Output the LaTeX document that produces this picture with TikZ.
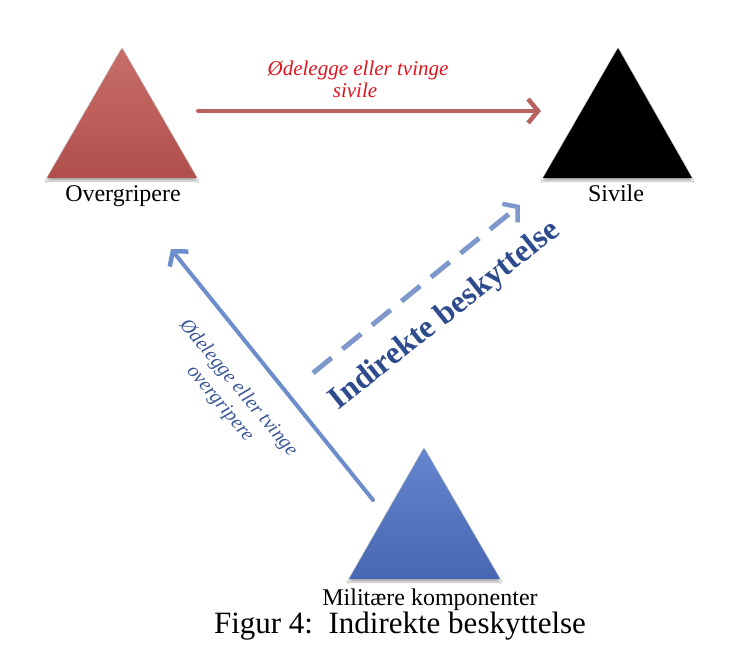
\documentclass[tikz,border=0pt]{standalone}
\usepackage{fontspec}
\setmainfont{Liberation Serif}
\usetikzlibrary{arrows.meta,shadows.blur}
\definecolor{redtop}{HTML}{C86E6A}
\definecolor{redbot}{HTML}{B04F4B}
\definecolor{redarrow}{HTML}{B7625E}
\definecolor{redtext}{HTML}{E0141F}
\definecolor{bluetop}{HTML}{6585CE}
\definecolor{bluebot}{HTML}{4767B2}
\definecolor{bluearrow}{HTML}{6E8DCB}
\definecolor{bluedash}{HTML}{7F98CC}
\definecolor{bluebold}{HTML}{2D4B8D}
\definecolor{bluelabel}{HTML}{3A5696}
\begin{document}
\begin{tikzpicture}[x=1pt,y=-1pt,
  tri/.style={blur shadow={shadow xshift=0pt,shadow yshift=-3pt,shadow blur steps=6,shadow opacity=30}},
  lbl/.style={font=\fontsize{24}{28}\selectfont, text=black, inner sep=0pt, anchor=base},
  arr/.style={line width=4pt, line cap=round, -{Straight Barb[length=10pt,width=24pt,line width=4.5pt]}},
]
\useasboundingbox[fill=white] (0,0) rectangle (742,646);

% triangles
\path[tri, top color=redtop, bottom color=redbot] (122,48) -- (197,178) -- (47,178) -- cycle;
\path[tri, fill=black] (618,48) -- (692,178) -- (543,178) -- cycle;
\path[tri, top color=bluetop, bottom color=bluebot] (424,448) -- (500,579) -- (349,579) -- cycle;

% labels
\node[lbl] (over) at (123,201) {Overgripere};
\node[lbl] (sivile) at (616,201) {Sivile};
\node[lbl] (mil) at (430,605) {Militære komponenter};
\node[lbl, font=\fontsize{31}{34}\selectfont] (caption) at (400,633) {Figur 4:\ \ Indirekte beskyttelse};

% coordinates for arrow ends
\coordinate (r1) at (198,111);
\coordinate (r2) at (541,111);
\coordinate (b1) at (373,500);
\coordinate (b2) at (171,249);
\coordinate (d1) at (313,373);
\coordinate (d2) at (520,205);

% arrows
\draw[arr, draw=redarrow] (r1) -- (r2);
\draw[arr, draw=bluearrow] (b1) -- (b2);
\draw[arr, draw=bluedash, line width=5pt, line cap=butt, dash pattern=on 24pt off 14pt] (d1) -- (d2);

% arrow labels
\node[font=\itshape\fontsize{21}{22}\selectfont, text=redtext, anchor=base, inner sep=0pt] (rl1) at (358,75) {Ødelegge eller tvinge};
\node[font=\itshape\fontsize{21}{22}\selectfont, text=redtext, anchor=base, inner sep=0pt] (rl2) at (355,97) {sivile};
\node[font=\itshape\fontsize{20}{24}\selectfont, text=bluelabel, align=center, rotate=-50, inner sep=0pt] (bl) at (229,396) {Ødelegge eller tvinge\\overgripere};
\node[font=\bfseries\fontsize{32}{34}\selectfont, text=bluebold, rotate=38.5, inner sep=0pt] (ind) at (445,316) {Indirekte beskyttelse};
\end{tikzpicture}
\end{document}
